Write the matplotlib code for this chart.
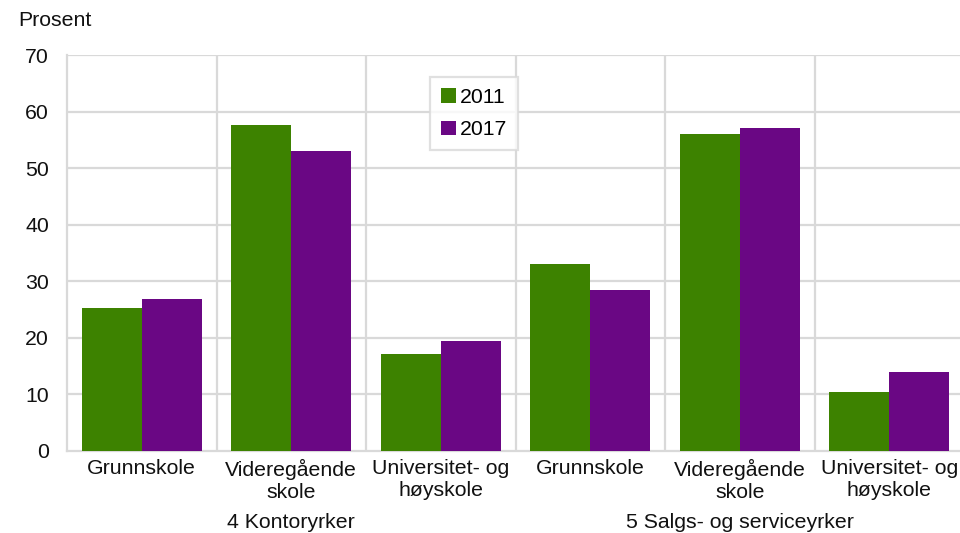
import matplotlib
matplotlib.use("Agg")
import matplotlib.pyplot as plt
from matplotlib.patches import Patch
import numpy as np

plt.rcParams['font.family'] = ['Liberation Sans', 'DejaVu Sans']

categories = ["Grunnskole", "Videregående\nskole", "Universitet- og\nhøyskole",
              "Grunnskole", "Videregående\nskole", "Universitet- og\nhøyskole"]
groups = ["4 Kontoryrker", "5 Salgs- og serviceyrker"]
series_names = ["2011", "2017"]
values_2011 = [25.3, 57.6, 17.1, 33.1, 56.1, 10.5]
values_2017 = [26.9, 53.1, 19.4, 28.5, 57.1, 13.9]
yticks = [0, 10, 20, 30, 40, 50, 60, 70]

green = "#3d8200"
purple = "#6a0784"
grid_c = "#d9d9d9"
fs = 15.3

fig = plt.figure(figsize=(9.6, 5.33), dpi=100)
ax = fig.add_axes([67/960, (533-451)/533, 1 - 67/960, (451-55)/533])

x = np.arange(len(categories))
w = 0.4
ax.bar(x - w/2, values_2011, width=w, color=green, label=series_names[0], zorder=3)
ax.bar(x + w/2, values_2017, width=w, color=purple, label=series_names[1], zorder=3)

ax.set_ylim(0, 70)
ax.set_xlim(-0.5, -0.5 + 893/149.5)
ax.set_yticks(yticks)
ax.set_yticklabels([str(t) for t in yticks], fontsize=fs, color="#111111")
for t in yticks[1:]:
    ax.axhline(t, color=grid_c, lw=1.6, zorder=1)
for b in np.arange(0.5, len(categories), 1.0):
    ax.axvline(b, color=grid_c, lw=1.6, zorder=1)

for s in ["top", "right"]:
    ax.spines[s].set_visible(False)
for s in ["left", "bottom"]:
    ax.spines[s].set_color(grid_c)
    ax.spines[s].set_linewidth(1.6)
ax.tick_params(axis="y", length=0, pad=13)
ax.tick_params(axis="x", length=0, pad=6)
ax.set_xticks(x)
ax.set_xticklabels(categories, fontsize=fs, color="#111111", linespacing=1.15)

for gi, g in enumerate(groups):
    cx = gi * 3 + 1
    ax.text(cx, -(522-451)/396, g, transform=ax.get_xaxis_transform(), ha="center", va="center",
            fontsize=fs, color="#111111")

fig.text(18/960, 1 - 21/533, "Prosent", ha="left", va="center", fontsize=fs, color="#111111")

handles = [Patch(facecolor=green, label=series_names[0]),
           Patch(facecolor=purple, label=series_names[1])]
leg = ax.legend(handles=handles, loc="upper left", bbox_to_anchor=((430-67)/893, (451-77)/396),
                fontsize=fs, frameon=True, fancybox=False, handlelength=0.7, handleheight=0.7,
                handletextpad=0.2, borderpad=0.5, labelspacing=0.65, borderaxespad=0)
leg.get_frame().set_edgecolor(grid_c)
leg.get_frame().set_linewidth(1.6)
leg.set_zorder(5)

fig.savefig("out.png", dpi=100)
